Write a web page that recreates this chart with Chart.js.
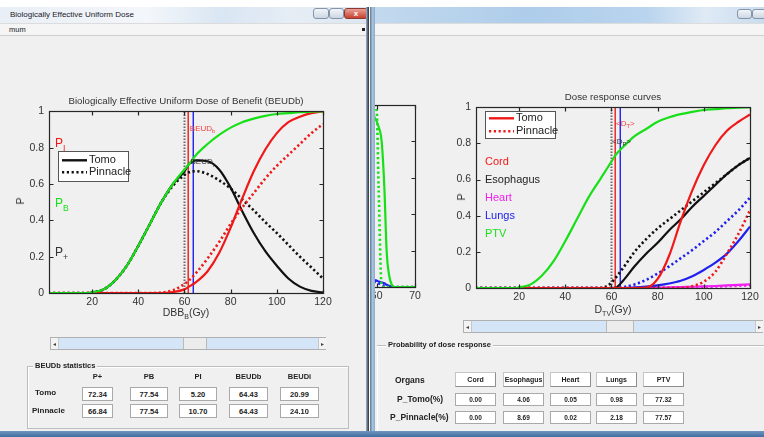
<!DOCTYPE html>
<html>
<head>
<meta charset="utf-8">
<script src="https://cdn.jsdelivr.net/npm/chart.js@4.4.1/dist/chart.umd.min.js"></script>
<style>
  body { margin:0; width:764px; height:437px; overflow:hidden; background:#fff; position:relative;
         font-family:"Liberation Sans", Arial, sans-serif; color:#222; }
  .a { position:absolute; }
  .win { background:#f0f0f0; }
  .menu { background:#f5f5f5; border-top:1px solid #dcdcdc; border-bottom:1px solid #cfcfcf; }
  .c { transform:translate(-50%,-50%); white-space:nowrap; }
  .ttl { font-size:9.7px; color:#333; }
  .axl { font-size:10.5px; color:#333; }
  .axl sub { font-size:7px; }
  .grp { border:1px solid #bdbdbd; box-shadow:1px 1px 0 #fff inset; }
  .gt { background:#f0f0f0; font-weight:bold; font-size:7.5px; padding:0 2px; }
  .b { font-weight:bold; font-size:8px; }
  .box { background:#fff; border:1px solid #a9a9a9; font-weight:bold; font-size:7.5px;
         display:flex; align-items:center; justify-content:center; box-sizing:border-box; }
  .hdr { background:#fff; border:1px solid #c4c4c4; border-right-color:#8f8f8f; border-bottom-color:#8f8f8f;
         font-weight:bold; font-size:7px; display:flex; align-items:center; justify-content:center; box-sizing:border-box; }
  .track { background:#d3e5f6; border:1px solid #b0b0b0; box-sizing:border-box; }
  .arr { background:#f3f3f3; border-right:1px solid #c8c8c8; font-size:6px; color:#444;
         display:flex; align-items:center; justify-content:center; }
  .thumb { background:#ececec; border-left:1px solid #b9b9b9; border-right:1px solid #b9b9b9; }
  .wbtn { border:1px solid #8494a8; border-radius:3px; background:linear-gradient(#f2f5f9,#cdd7e3); box-sizing:border-box; }
</style>
</head>
<body>

<!-- right window -->
<div class="a win" style="left:370px;top:0;width:394px;height:437px;"></div>
<div class="a" style="left:370px;top:0;width:394px;height:7px;background:#fff;"></div>
<div class="a" style="left:370px;top:7px;width:394px;height:16px;background:linear-gradient(90deg,#c3d9ee,#aecdea 40%,#b9d4ee 70%,#dfeaf5 85%,#c9dcef);"></div>
<div class="a wbtn" style="left:737px;top:9px;width:15px;height:10px;"></div>
<div class="a wbtn" style="left:752px;top:9px;width:14px;height:10px;"></div>
<div class="a menu" style="left:374px;top:23px;width:390px;height:11px;"></div>
<div class="a" style="left:370px;top:7px;width:5px;height:425px;background:linear-gradient(90deg,#5d7896,#a9c3dc 50%,#8eabc8);"></div>

<!-- partial chart behind, clipped by window edge -->
<div class="a" style="left:375px;top:90px;width:60px;height:220px;overflow:hidden;">
  <canvas id="dvh" width="70" height="209" style="position:absolute;left:-15px;top:5px;"></canvas>
</div>

<div class="a" style="left:436px;top:96px;"><canvas id="resp" width="326" height="209"></canvas></div>
<div class="a c ttl" style="left:613px;top:96px;">Dose response curves</div>
<div class="a c axl" style="left:613px;top:310px;">D<sub>TV</sub>(Gy)</div>
<div class="a c axl" style="left:461px;top:197px;transform:translate(-50%,-50%) rotate(-90deg);">P</div>

<div class="a track" style="left:463px;top:320px;width:300px;height:13px;"></div>
<div class="a arr" style="left:464px;top:321px;width:7px;height:11px;">&#9666;</div>
<div class="a thumb" style="left:606px;top:321px;width:26px;height:11px;"></div>
<div class="a arr" style="left:755px;top:321px;width:7px;height:11px;border-right:none;border-left:1px solid #c8c8c8;">&#9656;</div>

<div class="a grp" style="left:377px;top:345px;width:392px;height:86px;border-left:none;"></div>
<div class="a gt" style="left:386px;top:340px;">Probability of dose response</div>
<div class="a b" style="left:395px;top:375px;font-size:8.5px;">Organs</div>
<div class="a b" style="left:397px;top:394px;font-size:8.5px;">P_Tomo(%)</div>
<div class="a b" style="left:390px;top:412px;font-size:8.5px;">P_Pinnacle(%)</div>
<div id="organRow"></div>

<!-- left window -->
<div class="a win" style="left:0;top:0;width:369px;height:432px;"></div>
<div class="a" style="left:0;top:0;width:369px;height:7px;background:#fff;"></div>
<div class="a" style="left:0;top:7px;width:369px;height:16px;background:linear-gradient(90deg,#e9eff6,#f3f6fa 40%,#d9e6f3 60%,#e6edf5 80%,#dbe6f1);"></div>
<div class="a" style="left:10px;top:10px;font-size:8px;color:#1a1a2a;">Biologically Effective Uniform Dose</div>
<div class="a wbtn" style="left:313px;top:8px;width:16px;height:11px;"></div>
<div class="a wbtn" style="left:329px;top:8px;width:15px;height:11px;"></div>
<div class="a" style="left:344px;top:8px;width:24px;height:11px;border:1px solid #8a3a30;border-radius:3px;box-sizing:border-box;background:linear-gradient(#e9a197,#c8402f);color:#fff;font-size:8px;font-weight:bold;text-align:center;line-height:9px;">x</div>
<div class="a menu" style="left:0;top:23px;width:367px;height:11px;"></div>
<div class="a" style="left:9px;top:25px;font-size:7.5px;">mum</div>
<div class="a" style="left:362px;top:28px;width:3px;height:3px;background:#222;"></div>
<div class="a" style="left:366px;top:7px;width:3px;height:425px;background:linear-gradient(90deg,#9fb3c8,#2a2f36);"></div>

<div class="a" style="left:10px;top:100px;"><canvas id="beud" width="330" height="210"></canvas></div>
<div class="a c ttl" style="left:186px;top:100px;">Biologically Effective Uniform Dose of Benefit (BEUDb)</div>
<div class="a c axl" style="left:186px;top:313px;">DBB<sub>B</sub>(Gy)</div>
<div class="a c axl" style="left:20px;top:201px;transform:translate(-50%,-50%) rotate(-90deg);">P</div>

<div class="a track" style="left:50px;top:337px;width:276px;height:13px;"></div>
<div class="a arr" style="left:51px;top:338px;width:7px;height:11px;">&#9666;</div>
<div class="a thumb" style="left:183px;top:338px;width:22px;height:11px;"></div>
<div class="a arr" style="left:318px;top:338px;width:7px;height:11px;border-right:none;border-left:1px solid #c8c8c8;">&#9656;</div>

<div class="a grp" style="left:27px;top:366px;width:320px;height:61px;"></div>
<div class="a gt" style="left:33px;top:361px;">BEUDb statistics</div>
<div id="statRow"></div>

<div class="a" style="left:0;top:431px;width:764px;height:6px;background:linear-gradient(#6f95bf,#3f6c9f);"></div>

<script>
// ---------- data ----------
const doseL  = [1, 10, 18, 20, 25, 30, 35, 40, 45, 50, 55, 60, 62, 65, 70, 75, 80, 85, 90, 95, 100, 105, 110, 115, 120];
const pbTomo = [0, 0, 0, 0.004, 0.02, 0.07, 0.15, 0.26, 0.38, 0.5, 0.6, 0.68, 0.71, 0.76, 0.82, 0.87, 0.91, 0.94, 0.96, 0.975, 0.985, 0.99, 0.995, 0.998, 1];
const piTomo = [0, 0, 0, 0, 0, 0, 0, 0, 0, 0, 0.005, 0.02, 0.035, 0.06, 0.12, 0.22, 0.36, 0.52, 0.67, 0.79, 0.88, 0.94, 0.97, 0.99, 1];
const piPinn = [0, 0, 0, 0, 0, 0, 0, 0, 0, 0.003, 0.015, 0.05, 0.07, 0.11, 0.19, 0.28, 0.38, 0.47, 0.55, 0.63, 0.7, 0.76, 0.82, 0.88, 0.93];
const ppTomo = [0, 0, 0, 0.004, 0.02, 0.07, 0.15, 0.26, 0.38, 0.5, 0.6, 0.67, 0.71, 0.73, 0.725, 0.68, 0.58, 0.45, 0.33, 0.23, 0.15, 0.08, 0.035, 0.012, 0.003];
const ppPinn = [0, 0, 0, 0.004, 0.02, 0.07, 0.15, 0.26, 0.38, 0.5, 0.59, 0.65, 0.665, 0.67, 0.655, 0.62, 0.575, 0.515, 0.455, 0.39, 0.33, 0.265, 0.2, 0.14, 0.08];
const refDoseL = [60.0, 61.6, 63.8];

const doseR     = [1, 18, 20, 25, 30, 35, 40, 45, 50, 55, 58, 60, 62, 65, 70, 75, 80, 85, 90, 95, 100, 105, 110, 115, 120];
const ptvTomo   = [0, 0, 0.004, 0.02, 0.07, 0.15, 0.26, 0.38, 0.5, 0.6, 0.66, 0.7, 0.74, 0.78, 0.84, 0.88, 0.92, 0.945, 0.962, 0.975, 0.985, 0.99, 0.995, 0.998, 1];
const cordTomo  = [0, 0, 0, 0, 0, 0, 0, 0, 0, 0, 0, 0, 0, 0, 0, 0.002, 0.05, 0.18, 0.37, 0.54, 0.68, 0.79, 0.87, 0.92, 0.96];
const cordPinn  = [0, 0, 0, 0, 0, 0, 0, 0, 0, 0, 0, 0, 0, 0, 0, 0, 0, 0, 0, 0.01, 0.035, 0.09, 0.19, 0.3, 0.43];
const esoTomo   = [0, 0, 0, 0, 0, 0, 0, 0, 0, 0, 0, 0, 0.003, 0.04, 0.12, 0.19, 0.25, 0.32, 0.38, 0.45, 0.51, 0.57, 0.63, 0.68, 0.72];
const esoPinn   = [0, 0, 0, 0, 0, 0, 0, 0, 0, 0, 0.01, 0.03, 0.06, 0.11, 0.2, 0.27, 0.33, 0.38, 0.43, 0.48, 0.53, 0.58, 0.63, 0.68, 0.72];
const lungTomo  = [0, 0, 0, 0, 0, 0, 0, 0, 0, 0, 0, 0, 0, 0, 0.003, 0.008, 0.015, 0.025, 0.04, 0.065, 0.1, 0.14, 0.19, 0.26, 0.34];
const lungPinn  = [0, 0, 0, 0, 0, 0, 0, 0, 0, 0, 0, 0, 0, 0.005, 0.02, 0.045, 0.08, 0.12, 0.165, 0.21, 0.26, 0.31, 0.37, 0.43, 0.5];
const heartTomo = [0, 0, 0, 0, 0, 0, 0, 0, 0, 0, 0, 0, 0, 0, 0, 0.001, 0.002, 0.003, 0.005, 0.007, 0.009, 0.011, 0.014, 0.017, 0.02];
const heartPinn = [0, 0, 0, 0, 0, 0, 0, 0, 0, 0, 0, 0, 0, 0, 0, 0, 0, 0.001, 0.003, 0.004, 0.006, 0.008, 0.01, 0.012, 0.015];
const refDoseR = [60.0, 61.6, 63.8];

const dvhDose     = [58, 59, 60, 60.5, 61.3, 62, 62.6, 63.2, 64, 64.7, 66, 70];
const dvhPtvTomo  = [1, 0.95, 0.91, 0.88, 0.8, 0.55, 0.2, 0.07, 0.01, 0, 0, 0];
const dvhPtvPinn  = [1, 1, 0.97, 0.55, 0.01, 0, 0, 0, 0, 0, 0, 0];
const dvhLungTomo = [0.045, 0.04, 0.035, 0.03, 0.025, 0.02, 0.012, 0.006, 0.002, 0, 0, 0];
const dvhLungPinn = [0.035, 0.03, 0.025, 0.02, 0.012, 0.005, 0.001, 0, 0, 0, 0, 0];

const doseTicks = [20, 40, 60, 80, 100, 120];
const dvhTicks = [60, 70];
const pTicks = [0, 0.2, 0.4, 0.6, 0.8, 1];
const pTickLabels = ['0', '0.2', '0.4', '0.6', '0.8', '1'];

const statCols = ['P+', 'PB', 'PI', 'BEUDb', 'BEUDi'];
const statTomo = ['72.34', '77.54', '5.20', '64.43', '20.99'];
const statPinn = ['66.84', '77.54', '10.70', '64.43', '24.10'];

const organs = ['Cord', 'Esophagus', 'Heart', 'Lungs', 'PTV'];
const probTomo = ['0.00', '4.06', '0.05', '0.98', '77.32'];
const probPinn = ['0.00', '8.69', '0.02', '2.18', '77.57'];

// ---------- colours ----------
const RED = '#f01818', GREEN = '#18e018', BLACK = '#111', BLUE = '#2020f0', MAG = '#f020f0';
const FONT = '"Liberation Sans", Arial, sans-serif';

// ---------- GUI tables ----------
function el(parent, cls, style, text) {
  const d = document.createElement('div');
  d.className = 'a ' + cls;
  d.style.cssText = style;
  d.textContent = text;
  parent.appendChild(d);
}
const statX = [[82, 31], [130, 38], [179, 38], [229, 39], [280, 39]];
const statHost = document.getElementById('statRow');
statCols.forEach((c, i) => {
  const [x, w] = statX[i];
  el(statHost, 'b c', `left:${x + w / 2}px;top:376px;font-size:7.5px;`, c);
  el(statHost, 'box', `left:${x}px;top:387px;width:${w}px;height:14px;`, statTomo[i]);
  el(statHost, 'box', `left:${x}px;top:404px;width:${w}px;height:14px;`, statPinn[i]);
});
el(statHost, 'b', 'left:35px;top:388px;', 'Tomo');
el(statHost, 'b', 'left:32px;top:406px;', 'Pinnacle');

const orgX = [455, 503, 550, 596, 643];
const orgHost = document.getElementById('organRow');
organs.forEach((o, i) => {
  el(orgHost, 'hdr', `left:${orgX[i]}px;top:372px;width:41px;height:15px;`, o);
  el(orgHost, 'box', `left:${orgX[i]}px;top:393px;width:41px;height:13px;font-size:6.5px;`, probTomo[i]);
  el(orgHost, 'box', `left:${orgX[i]}px;top:411px;width:41px;height:13px;font-size:6.5px;`, probPinn[i]);
});

// ---------- chart helpers ----------
function curve(xs, ys, color, dotted, order) {
  return {
    data: xs.map((x, i) => ({ x: x, y: ys[i] })),
    borderColor: color,
    borderWidth: dotted ? 2.6 : 2.2,
    borderDash: dotted ? [2.2, 2.6] : [],
    pointRadius: 0,
    cubicInterpolationMode: 'monotone',
    order: order || 0
  };
}
function vline(x, color, dotted) {
  return {
    data: [{ x: x, y: 0 }, { x: x, y: 1 }],
    borderColor: color,
    borderWidth: dotted ? 2 : 1.4,
    borderDash: dotted ? [1.5, 1.5] : [],
    pointRadius: 0,
    tension: 0,
    order: 5
  };
}

function drawSub(ctx, x, y, main, sub, tail, size, color) {
  ctx.fillStyle = color;
  ctx.textAlign = 'left';
  ctx.textBaseline = 'middle';
  ctx.font = size + 'px ' + FONT;
  ctx.fillText(main, x, y);
  let w = ctx.measureText(main).width;
  if (sub) {
    ctx.font = (size * 0.72) + 'px ' + FONT;
    ctx.fillText(sub, x + w, y + size * 0.38);
    w += ctx.measureText(sub).width;
  }
  if (tail) {
    ctx.font = size + 'px ' + FONT;
    ctx.fillText(tail, x + w, y);
  }
}

// MATLAB-like frame: box, inward ticks, text labels, inset legend
const matlabAxes = {
  id: 'matlab',
  afterDraw(chart, args, opts) {
    const { ctx, chartArea: a, scales: { x, y } } = chart;
    const L = Math.round(a.left) + 0.5, R = Math.round(a.right) + 0.5;
    const T = Math.round(a.top) + 0.5, B = Math.round(a.bottom) + 0.5;
    ctx.save();
    ctx.strokeStyle = '#262626';
    ctx.lineWidth = 1.2;
    ctx.strokeRect(L, T, R - L, B - T);
    ctx.beginPath();
    (opts.xTicks || []).forEach(v => {
      const px = Math.round(x.getPixelForValue(v)) + 0.5;
      ctx.moveTo(px, B); ctx.lineTo(px, B - 4);
      ctx.moveTo(px, T); ctx.lineTo(px, T + 4);
    });
    pTicks.slice(1, -1).forEach(v => {
      const py = Math.round(y.getPixelForValue(v)) + 0.5;
      ctx.moveTo(L, py); ctx.lineTo(L + 4, py);
      ctx.moveTo(R, py); ctx.lineTo(R - 4, py);
    });
    ctx.stroke();

    (opts.notes || []).forEach(n => {
      drawSub(ctx, x.getPixelForValue(n.x), y.getPixelForValue(n.y), n.main, n.sub, n.tail, n.size, n.color);
    });

    const lg = opts.legend;
    if (lg) {
      const bx = a.left + lg.x, by = a.top + lg.y;
      ctx.fillStyle = '#fff';
      ctx.fillRect(bx, by, lg.w, lg.h);
      ctx.strokeStyle = '#555';
      ctx.lineWidth = 1;
      ctx.strokeRect(Math.round(bx) + 0.5, Math.round(by) + 0.5, lg.w, lg.h);
      lg.rows.forEach(r => {
        const ry = by + r.dy;
        ctx.beginPath();
        ctx.strokeStyle = r.color;
        ctx.lineWidth = r.dotted ? 2.6 : 2.4;
        ctx.setLineDash(r.dotted ? [2.2, 2.6] : []);
        ctx.moveTo(bx + 4, ry); ctx.lineTo(bx + 29, ry);
        ctx.stroke();
        ctx.setLineDash([]);
        ctx.fillStyle = '#222';
        ctx.font = '11px ' + FONT;
        ctx.textBaseline = 'middle';
        ctx.textAlign = 'left';
        ctx.fillText(r.label, bx + 31, ry);
      });
    }
    ctx.restore();
  }
};

function scales(xMin, xMax, xTicks, showY) {
  return {
    x: {
      type: 'linear', min: xMin, max: xMax,
      afterBuildTicks: s => { s.ticks = xTicks.map(v => ({ value: v })); },
      afterFit: s => { s.height = 17; },
      ticks: { font: { family: FONT, size: 10.5 }, color: '#333', padding: 3, maxRotation: 0, autoSkip: false },
      grid: { display: false, drawTicks: false },
      border: { display: false }
    },
    y: {
      display: showY, min: 0, max: 1,
      afterBuildTicks: s => { s.ticks = pTicks.map(v => ({ value: v })); },
      afterFit: s => { s.width = showY ? 39 : 0; },
      ticks: { font: { family: FONT, size: 10.5 }, color: '#333', padding: 5, callback: (v, i) => pTickLabels[i] },
      grid: { display: false, drawTicks: false },
      border: { display: false }
    }
  };
}

function baseOptions(padding, sc, matlab) {
  return {
    responsive: false, animation: false, devicePixelRatio: 1,
    layout: { padding: padding },
    scales: sc,
    plugins: { legend: { display: false }, tooltip: { enabled: false }, matlab: matlab }
  };
}

// ---------- left chart: BEUDb ----------
new Chart(document.getElementById('beud'), {
  type: 'line',
  plugins: [matlabAxes],
  data: {
    datasets: [
      curve(doseL, pbTomo, GREEN, false, 0),
      curve(doseL, piTomo, RED, false, 1),
      curve(doseL, piPinn, RED, true, 1),
      curve(doseL, ppTomo, BLACK, false, 2),
      curve(doseL, ppPinn, BLACK, true, 2),
      vline(refDoseL[0], '#6a6a6a', true),
      vline(refDoseL[1], RED, false),
      vline(refDoseL[2], BLUE, false)
    ]
  },
  options: baseOptions({ left: 0, top: 10, right: 17, bottom: 0 }, scales(1.3, 120, doseTicks, true), {
    xTicks: doseTicks,
    notes: [
      { x: 3.9, y: 0.82, main: 'P', sub: 'I', size: 12, color: RED },
      { x: 3.9, y: 0.49, main: 'P', sub: 'B', size: 12, color: GREEN },
      { x: 3.9, y: 0.22, main: 'P', sub: '+', size: 12, color: '#333' },
      { x: 62.3, y: 0.905, main: 'BEUD', sub: 'b', size: 8, color: '#f04040' },
      { x: 62.6, y: 0.72, main: 'BEUD', sub: 'i', size: 8, color: '#333' }
    ],
    legend: { x: 9, y: 40, w: 70, h: 30, rows: [
      { label: 'Tomo', color: BLACK, dotted: false, dy: 9 },
      { label: 'Pinnacle', color: BLACK, dotted: true, dy: 21 }
    ] }
  })
});

// ---------- right chart: dose response ----------
new Chart(document.getElementById('resp'), {
  type: 'line',
  plugins: [matlabAxes],
  data: {
    datasets: [
      curve(doseR, ptvTomo, GREEN, false, 0),
      curve(doseR, cordTomo, RED, false, 1),
      curve(doseR, cordPinn, RED, true, 1),
      curve(doseR, esoTomo, BLACK, false, 1),
      curve(doseR, esoPinn, BLACK, true, 1),
      curve(doseR, lungTomo, BLUE, false, 1),
      curve(doseR, lungPinn, BLUE, true, 1),
      curve(doseR, heartTomo, MAG, false, 1),
      curve(doseR, heartPinn, MAG, true, 1),
      vline(refDoseR[0], '#6a6a6a', true),
      vline(refDoseR[1], RED, false),
      vline(refDoseR[2], BLUE, false)
    ]
  },
  options: baseOptions({ left: 1, top: 10, right: 12, bottom: 0 }, scales(1.3, 120, doseTicks, true), {
    xTicks: doseTicks,
    notes: [
      { x: 5.2, y: 0.70, main: 'Cord', size: 11, color: RED },
      { x: 5.2, y: 0.60, main: 'Esophagus', size: 11, color: '#222' },
      { x: 5.2, y: 0.50, main: 'Heart', size: 11, color: MAG },
      { x: 5.2, y: 0.40, main: 'Lungs', size: 11, color: BLUE },
      { x: 5.2, y: 0.30, main: 'PTV', size: 11, color: GREEN },
      { x: 62.0, y: 0.91, main: '<D', sub: 'T', tail: '>', size: 8, color: '#f04040' },
      { x: 60.2, y: 0.81, main: '<D', sub: 'P', tail: '>', size: 8, color: '#333' }
    ],
    legend: { x: 9, y: 4, w: 70, h: 27, rows: [
      { label: 'Tomo', color: RED, dotted: false, dy: 7 },
      { label: 'Pinnacle', color: RED, dotted: true, dy: 20 }
    ] }
  })
});

// ---------- partial chart behind the right window edge ----------
new Chart(document.getElementById('dvh'), {
  type: 'line',
  plugins: [matlabAxes],
  data: {
    datasets: [
      curve(dvhDose, dvhPtvTomo, GREEN, false, 0),
      curve(dvhDose, dvhPtvPinn, GREEN, true, 0),
      curve(dvhDose, dvhLungTomo, BLUE, false, 1),
      curve(dvhDose, dvhLungPinn, BLUE, true, 1)
    ]
  },
  options: baseOptions({ left: 9, top: 10, right: 15, bottom: 0 }, scales(58, 70, dvhTicks, false), {
    xTicks: dvhTicks
  })
});
</script>
</body>
</html>
